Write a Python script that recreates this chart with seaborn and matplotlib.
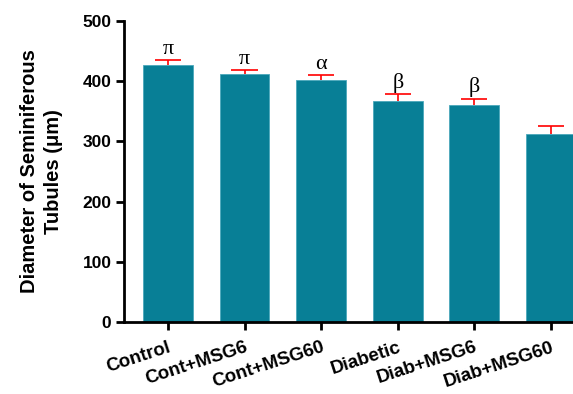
import numpy as np
import pandas as pd
import matplotlib
matplotlib.use("Agg")
import matplotlib.pyplot as plt
import seaborn as sns

# --- data ---
groups = ["Control", "Cont+MSG6", "Cont+MSG60", "Diabetic", "Diab+MSG6", "Diab+MSG60"]
means = [427, 412, 402, 367, 360, 313]
sems = [8, 6, 8, 12, 11, 13]
marks = ["\u03c0", "\u03c0", "\u03b1", "\u03b2", "\u03b2", ""]

df = pd.DataFrame({"group": groups, "diameter": means})

sns.set_style("ticks")
plt.rcParams["font.family"] = ["Liberation Sans", "DejaVu Sans"]
# plain black text / axes like the original figure
for key in ["text.color", "axes.labelcolor", "xtick.color", "ytick.color", "axes.edgecolor"]:
    plt.rcParams[key] = "black"

fig = plt.figure(figsize=(5.73, 3.94), dpi=100)
ax = fig.add_axes([0.2164, 0.1827, 0.80, 0.764])

sns.barplot(data=df, x="group", y="diameter", color="#087f96", width=0.65,
            saturation=1, ax=ax, errorbar=None)
for p in ax.patches:
    p.set_edgecolor("#4aa8bb")
    p.set_linewidth(0.6)

# upper-only error bars in red (stem + top cap)
x = np.arange(len(groups))
tops = np.array(means) + np.array(sems)
ax.vlines(x, means, tops, color="red", linewidth=1.2, zorder=3)
ax.hlines(tops, x - 0.17, x + 0.17, color="red", linewidth=1.2, zorder=3)

# significance letters
for xi, t, lab in zip(x, tops, marks):
    ax.text(xi, t + 2, lab, ha="center", va="bottom", fontsize=16,
            family=["Liberation Serif", "DejaVu Serif"])

ax.set_ylim(0, 500)
ax.set_xlim(-0.573, 5.41)
ax.set_yticks([0, 100, 200, 300, 400, 500])
ax.set_xlabel("")
ax.set_ylabel("Diameter of Seminiferous\nTubules (\u03bcm)", fontsize=14.5,
              fontweight="bold", labelpad=14, linespacing=1.35)
ax.tick_params(axis="both", width=2, length=6, labelsize=12.5, pad=3)
for lab in ax.get_yticklabels():
    lab.set_fontweight("bold")
ax.set_xticks(x)
ax.set_xticklabels(groups, rotation=18, ha="right", rotation_mode="anchor",
                   fontweight="bold", fontsize=13.5)
ax.tick_params(axis="x", pad=6)
for side in ["left", "bottom"]:
    ax.spines[side].set_linewidth(2)
sns.despine(ax=ax)

fig.savefig("out.png", dpi=100)
